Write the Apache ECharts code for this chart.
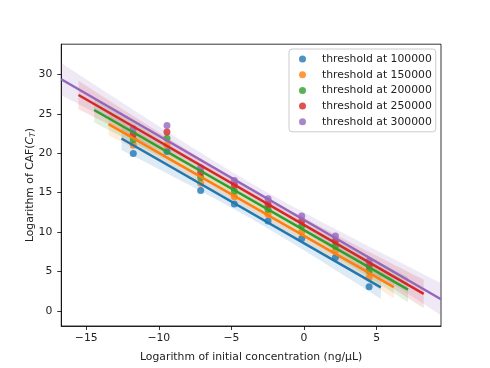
<!DOCTYPE html>
<html><head><meta charset="utf-8">
<script src="https://cdn.jsdelivr.net/npm/echarts@6/dist/echarts.min.js"></script>
<style>html,body{margin:0;padding:0;background:#fff}#c{width:490px;height:368px}</style>
</head><body><div id="c"></div>
<script>
const seriesNames = ['threshold at 100000','threshold at 150000','threshold at 200000','threshold at 250000','threshold at 300000'];
const colors = ['#1f77b4','#ff7f0e','#2ca02c','#d62728','#9467bd'];
const xValues = [-11.76,-9.44,-7.12,-4.80,-2.48,-0.16,2.16,4.48];
const y100000 = [19.96,20.2,15.28,13.55,11.4,9.16,6.76,3.04];
const y150000 = [21.0,21.0,16.2,14.48,12.24,10.0,7.6,4.22];
const y200000 = [21.7,21.9,16.9,15.2,12.87,10.76,8.23,5.06];
const y250000 = [22.4,22.7,17.55,15.95,13.5,11.4,8.86,5.7];
const y300000 = [23.1,23.5,18.15,16.54,14.23,12.03,9.5,6.33];
const lineStart = [-12.57,-13.46,-14.45,-15.53,-16.72];
const lineEnd = [5.29,6.18,7.16,8.24,9.43];
const xTicks = [-15,-10,-5,0,5];
const yTicks = [0,5,10,15,20,25,30];
const xRange = [-16.72,9.43];
const yRange = [-1.93,33.83];
const tCrit = 2.2;

const allY = [y100000,y150000,y200000,y250000,y300000];
const FONT = 'DejaVu Sans';
const FS = 10.8;
const fmt = v => (v < 0 ? '\u2212' + Math.abs(v) : String(v));

function fit(xs, ys) {
  const n = xs.length;
  const mx = xs.reduce((a,b)=>a+b,0)/n, my = ys.reduce((a,b)=>a+b,0)/n;
  let sxx=0, sxy=0;
  for (let i=0;i<n;i++){ sxx+=(xs[i]-mx)**2; sxy+=(xs[i]-mx)*(ys[i]-my); }
  const b = sxy/sxx, a = my - b*mx;
  let ssr=0; for (let i=0;i<n;i++){ ssr+=(ys[i]-(a+b*xs[i]))**2; }
  const s = Math.sqrt(ssr/(n-2));
  return {a,b,s,n,mx,sxx};
}

const series = [];
allY.forEach((ys, i) => {
  const f = fit(xValues, ys);
  const x0 = lineStart[i], x1 = lineEnd[i];
  const upper = [], lower = [];
  for (let k=0;k<=60;k++){
    const x = x0 + (x1-x0)*k/60;
    const yh = f.a + f.b*x;
    const se = f.s*Math.sqrt(1/f.n + (x-f.mx)**2/f.sxx);
    upper.push([x, yh + tCrit*se]);
    lower.push([x, yh - tCrit*se]);
  }
  series.push({
    type:'scatter', name: seriesNames[i], z:2,
    data: xValues.map((x,k)=>[x, ys[k]]),
    symbol:'circle', symbolSize:7,
    itemStyle:{color: colors[i], opacity:0.8},
    emphasis:{disabled:true}
  });
  series.push({
    type:'custom', name:'band'+i, z:2, silent:true,
    data:[[x0, f.a+f.b*x0]],
    renderItem: (params, api) => {
      const pts = upper.map(p=>api.coord(p)).concat(lower.slice().reverse().map(p=>api.coord(p)));
      return {type:'polygon', shape:{points:pts}, style:{fill: colors[i], opacity:0.15}};
    }
  });
  series.push({
    type:'line', name:'fit'+i, z:3, silent:true,
    data:[[x0, f.a+f.b*x0],[x1, f.a+f.b*x1]],
    showSymbol:false, symbol:'none',
    lineStyle:{color: colors[i], width:2.5},
    emphasis:{disabled:true}
  });
});

const chart = echarts.init(document.getElementById('c'), null, {renderer:'canvas'});
chart.setOption({
  animation:false,
  backgroundColor:'#fff',
  grid:{left:61.25, right:49, top:44.2, bottom:40.5, show:true, borderColor:'#000', borderWidth:0.8, backgroundColor:'transparent'},
  legend:{
    data: seriesNames, orient:'vertical', left:289, top:49,
    padding:[4,4,4,10], itemWidth:7, itemHeight:7, itemGap:3.7, icon:'circle',
    backgroundColor:'rgba(255,255,255,0.8)', borderColor:'#cccccc', borderWidth:1, borderRadius:3,
    textStyle:{fontFamily:FONT, fontSize:FS, color:'#222', padding:[0,0,0,11], lineHeight:12},
    itemStyle:{opacity:0.8}
  },
  xAxis:{
    type:'value', min:xRange[0], max:xRange[1],
    name:'Logarithm of initial concentration (ng/\u03bcL)', nameLocation:'middle', nameGap:26,
    nameMoveOverlap:false,
    nameTextStyle:{fontFamily:FONT, fontSize:FS, color:'#222'},
    axisLine:{show:true, onZero:false, lineStyle:{color:'#000', width:0.8}},
    axisTick:{show:true, customValues:xTicks, length:4, lineStyle:{color:'#000', width:0.8}},
    axisLabel:{customValues:xTicks, formatter:fmt, fontFamily:FONT, fontSize:FS, color:'#222', margin:7},
    splitLine:{show:false}
  },
  yAxis:{
    type:'value', min:yRange[0], max:yRange[1],
    name:'Logarithm of CAF({it|C}{sub|T})', nameLocation:'middle', nameGap:24,
    nameMoveOverlap:false,
    nameTextStyle:{fontFamily:FONT, fontSize:FS, color:'#222',
      rich:{it:{fontFamily:FONT, fontSize:FS, fontStyle:'italic', color:'#222'},
            sub:{fontFamily:FONT, fontSize:7.6, fontStyle:'italic', color:'#222', padding:[6,0,0,0]}}},
    axisLine:{show:true, onZero:false, lineStyle:{color:'#000', width:0.8}},
    axisTick:{show:true, customValues:yTicks, length:4, lineStyle:{color:'#000', width:0.8}},
    axisLabel:{customValues:yTicks, formatter:fmt, fontFamily:FONT, fontSize:FS, color:'#222', margin:9},
    splitLine:{show:false}
  },
  series: series
});
</script>
</body></html>
